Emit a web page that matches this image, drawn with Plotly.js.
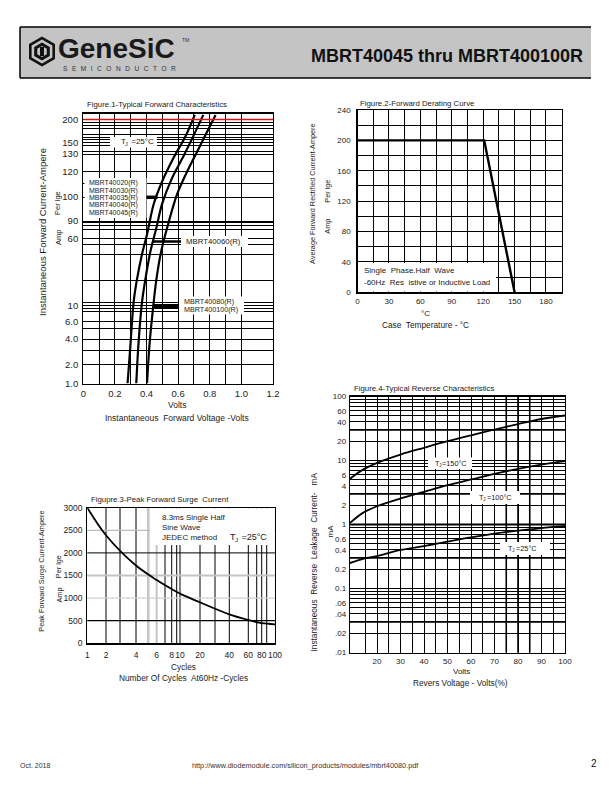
<!DOCTYPE html>
<html><head><meta charset="utf-8">
<script src="https://cdn.plot.ly/plotly-3.0.1.min.js"></script>
<style>html,body{margin:0;padding:0;background:#fff}#chart{width:612px;height:792px}</style>
</head><body><div id="chart"></div>
<script>
// ================= DATA =================
// Figure 1 - Typical Forward Characteristics (non-uniform printed current scale)
const FIG1_TICK_AMPS = [1, 2, 4, 6, 10, 60, 90, 100, 120, 130, 150, 200];
const FIG1_TICK_TEXT = ["1.0", "2.0", "4.0", "6.0", "10", "60", "90", "100", "120", "130", "150", "200"];
const FIG1_TICK_POS  = [0, 19.2, 44.5, 62, 78.2, 145, 162.5, 186.5, 212, 229.5, 241, 264]; // scale definition
const FIG1_X_TICKS = [0, 0.2, 0.4, 0.6, 0.8, 1.0, 1.2];
const FIG1_X_TEXT  = ["0", "0.2", "0.4", "0.6", "0.8", "1.0", "1.2"];
const FIG1_A_VOLTS = [0.280, 0.297, 0.318, 0.339, 0.371, 0.403, 0.445, 0.498, 0.572, 0.646, 0.705];
const FIG1_A_AMPS  = [1.0, 3.3, 12, 29, 48, 67, 97, 112, 128, 163, 210];
const FIG1_B_VOLTS = [0.335, 0.349, 0.371, 0.392, 0.424, 0.462, 0.498, 0.562, 0.635, 0.699, 0.759];
const FIG1_B_AMPS  = [1.0, 3.6, 12, 29, 50, 78, 97, 115, 129, 166, 210];
const FIG1_C_VOLTS = [0.403, 0.419, 0.441, 0.462, 0.492, 0.530, 0.593, 0.657, 0.720, 0.784, 0.837];
const FIG1_C_AMPS  = [1.0, 3.6, 9.2, 29, 50, 78, 102, 120, 134, 174, 210];
const FIG1_MODELS_A = ["MBRT40020(R)", "MBRT40030(R)", "MBRT40035(R)", "MBRT40040(R)", "MBRT40045(R)"];
const FIG1_MODELS_B = ["MBRT40060(R)"];
const FIG1_MODELS_C = ["MBRT40080(R)", "MBRT400100(R)"];

// Figure 2 - Forward Derating Curve
const FIG2_TEMP = [0, 121, 150];
const FIG2_AMPS = [200, 200, 0];
const FIG2_X_TICKS = [0, 30, 60, 90, 120, 150, 180];
const FIG2_Y_TICKS = [0, 40, 80, 120, 160, 200, 240];

// Figure 3 - Peak Forward Surge Current (non-uniform printed cycle scale)
const FIG3_TICK_CYCLES = [1, 2, 4, 6, 8, 10, 20, 40, 60, 80, 100];
const FIG3_TICK_TEXT   = ["1", "2", "4", "6", "8", "10", "20", "40", "60", "80", "100"];
const FIG3_TICK_POS    = [0, 18.7, 48.7, 69.4, 84.4, 92.7, 112.7, 142, 161, 174.4, 187.7]; // scale definition
const FIG3_CYCLES = [1, 2, 4, 6, 8, 10, 20, 40, 60, 80, 100];
const FIG3_AMPS   = [3000, 2390, 1720, 1400, 1200, 1100, 905, 640, 515, 445, 420];
const FIG3_Y_TICKS = [0, 500, 1000, 1500, 2000, 2500, 3000];

// Figure 4 - Typical Reverse Characteristics
const FIG4_VOLTS = [8.5, 14, 20, 30, 40, 50, 60, 70, 80, 90, 100];
const FIG4_T150  = [5.2, 7.2, 9.2, 12.4, 15.8, 20, 24.8, 30.5, 37, 44.5, 50.5];
const FIG4_T100  = [1.06, 1.52, 1.93, 2.55, 3.24, 4.12, 5.05, 6.2, 7.4, 8.6, 9.75];
const FIG4_T25   = [0.25, 0.29, 0.32, 0.40, 0.46, 0.54, 0.63, 0.72, 0.80, 0.88, 0.94];
const FIG4_Y_TICKS = [0.01, 0.02, 0.04, 0.06, 0.1, 0.2, 0.4, 0.6, 1, 2, 4, 6, 10, 20, 40, 60, 100];
const FIG4_Y_TEXT  = [".01", ".02", ".04", ".06", "0.1", "0.2", "0.4", "0.6", "1", "2", "4", "6", "10", "20", "40", "60", "100"];
const FIG4_X_TICKS = [20, 30, 40, 50, 60, 70, 80, 90, 100];

// ================= HELPERS =================
const W = 612, H = 792;
const fx = x => x / W;
const fy = y => 1 - y / H;
const FONT = 'Liberation Sans, Arial, Helvetica, sans-serif';

function interp(v, xs, ys, useLog) {
  const t = useLog ? Math.log10 : (a => a);
  const tv = t(v);
  let i = 0;
  while (i < xs.length - 2 && tv > t(xs[i + 1])) i++;
  const x0 = t(xs[i]), x1 = t(xs[i + 1]);
  return ys[i] + (tv - x0) * (ys[i + 1] - ys[i]) / (x1 - x0);
}
const fig1Pos = a => interp(a, FIG1_TICK_AMPS, FIG1_TICK_POS, false);
const fig3Pos = c => interp(c, FIG3_TICK_CYCLES, FIG3_TICK_POS, true);

function ann(text, x, y, size, o) {
  o = o || {};
  return {
    text: text, x: fx(x), y: fy(y), xref: 'paper', yref: 'paper', showarrow: false,
    xanchor: o.xanchor || 'left', yanchor: 'middle', textangle: o.angle || 0,
    font: {family: o.family || FONT, size: size, color: o.color || '#222', weight: o.weight || 'normal'}
  };
}
function rectPx(x0, y0, x1, y1, fill, lineColor, lw) {
  return {type: 'rect', xref: 'paper', yref: 'paper', x0: fx(x0), x1: fx(x1), y0: fy(y0), y1: fy(y1),
    fillcolor: fill, line: {color: lineColor || fill, width: lw || 0}, layer: 'above'};
}
function linePx(x0, y0, x1, y1, color, width) {
  return {type: 'line', xref: 'paper', yref: 'paper', x0: fx(x0), x1: fx(x1), y0: fy(y0), y1: fy(y1),
    line: {color: color, width: width}, layer: 'above'};
}
function axisBase(extra) {
  return Object.assign({showline: true, mirror: true, linecolor: '#000', linewidth: 1.2, ticks: '', tickangle: 0,
    zeroline: false, showgrid: true, gridcolor: '#000', gridwidth: 1, fixedrange: true}, extra);
}
function mergeTicks(vals, texts, extra) {
  const tv = vals.slice(), tt = texts.slice();
  extra.forEach(e => {
    if (!vals.some(v => Math.abs(v - e) < 1e-9 * Math.max(1, Math.abs(e)))) { tv.push(e); tt.push(''); }
  });
  return {tickvals: tv, ticktext: tt};
}

// ================= AXES =================
const fig1XGrid = [0.1, 0.3, 0.5, 0.7, 0.9];
const fig1X = mergeTicks(FIG1_X_TICKS, FIG1_X_TEXT, fig1XGrid);
const fig1YGrid = [261.2, 257.8, 255.2, 249, 246.5, 244, 238.5, 231.8, 200.2, 160.8, 157.8, 154.5,
                   139.5, 129.5, 103.5, 80.8, 75.2, 72.5, 55.2, 33.5];
const fig1Y = mergeTicks(FIG1_TICK_POS, FIG1_TICK_TEXT, fig1YGrid);

const fig2XGrid = [15, 45, 75, 105, 135, 165];
const fig2X = mergeTicks(FIG2_X_TICKS, FIG2_X_TICKS.map(String), fig2XGrid);
const fig2YGrid = [20, 60, 100, 140, 180, 220];
const fig2Y = mergeTicks(FIG2_Y_TICKS, FIG2_Y_TICKS.map(String), fig2YGrid);

const fig4YGrid = [];
[0.01, 0.1, 1, 10].forEach(d => { for (let m = 1; m <= 9; m++) fig4YGrid.push(+(m * d).toPrecision(6)); });
const fig4Y = mergeTicks(FIG4_Y_TICKS, FIG4_Y_TEXT, fig4YGrid);
const fig4XGrid = [15, 25, 35, 45, 55, 65, 75, 85, 95];
const fig4X = mergeTicks(FIG4_X_TICKS, FIG4_X_TICKS.map(String), fig4XGrid);

const tf = (s) => ({family: FONT, size: s, color: '#222'});

const layout = {
  width: W, height: H, margin: {l: 0, r: 0, t: 0, b: 0},
  paper_bgcolor: '#fff', plot_bgcolor: '#fff', showlegend: false,
  xaxis: axisBase({domain: [fx(83.3), fx(273)], range: [0, 1.2], anchor: 'y',
    tickmode: 'array', tickvals: fig1X.tickvals, ticktext: fig1X.ticktext, tickfont: tf(9.5), ticklabelstandoff: 1}),
  yaxis: axisBase({domain: [fy(383.5), fy(113.5)], range: [0, 270], anchor: 'x',
    tickmode: 'array', tickvals: fig1Y.tickvals, ticktext: fig1Y.ticktext, tickfont: tf(9.5), ticklabelstandoff: 2}),
  xaxis2: axisBase({domain: [fx(357.5), fx(561.7)], range: [0, 195], anchor: 'y2',
    tickmode: 'array', tickvals: fig2X.tickvals, ticktext: fig2X.ticktext, tickfont: tf(8), ticklabelstandoff: 1}),
  yaxis2: axisBase({domain: [fy(292.3), fy(110)], range: [0, 240], anchor: 'x2',
    tickmode: 'array', tickvals: fig2Y.tickvals, ticktext: fig2Y.ticktext, tickfont: tf(8), ticklabelstandoff: 4}),
  xaxis3: axisBase({domain: [fx(87.3), fx(275)], range: [0, 187.7], anchor: 'y3', showgrid: false,
    tickmode: 'array', tickvals: FIG3_TICK_POS, ticktext: FIG3_TICK_TEXT, tickfont: tf(8.5), ticklabelstandoff: 3}),
  yaxis3: axisBase({domain: [fy(643.3), fy(507.7)], range: [0, 3000], anchor: 'x3', showgrid: false,
    tickmode: 'array', tickvals: FIG3_Y_TICKS, ticktext: FIG3_Y_TICKS.map(String), tickfont: tf(8.5), ticklabelstandoff: 2}),
  xaxis4: axisBase({domain: [fx(350), fx(565)], range: [8.5, 100], anchor: 'y4',
    tickmode: 'array', tickvals: fig4X.tickvals, ticktext: fig4X.ticktext, tickfont: tf(8), ticklabelstandoff: 1}),
  yaxis4: axisBase({domain: [fy(652.5), fy(396.5)], type: 'log', range: [-2, 2], anchor: 'x4',
    tickmode: 'array', tickvals: fig4Y.tickvals, ticktext: fig4Y.ticktext, tickfont: tf(8), ticklabelstandoff: 1}),
  shapes: [],
  annotations: []
};

// ================= TRACES =================
const curve = (xs, ys, xa, ya, w, spline) => ({
  type: 'scatter', mode: 'lines', x: xs, y: ys, xaxis: xa, yaxis: ya, hoverinfo: 'skip',
  line: {color: '#000', width: w, shape: spline ? 'spline' : 'linear', smoothing: 0.9}
});
const traces = [
  curve(FIG1_A_VOLTS, FIG1_A_AMPS.map(fig1Pos), 'x', 'y', 2.2, true),
  curve(FIG1_B_VOLTS, FIG1_B_AMPS.map(fig1Pos), 'x', 'y', 2.2, true),
  curve(FIG1_C_VOLTS, FIG1_C_AMPS.map(fig1Pos), 'x', 'y', 2.2, true),
  curve(FIG2_TEMP, FIG2_AMPS, 'x2', 'y2', 2.4, false),
  curve(FIG3_CYCLES.map(fig3Pos), FIG3_AMPS, 'x3', 'y3', 1.8, true),
  curve(FIG4_VOLTS, FIG4_T150, 'x4', 'y4', 1.8, true),
  curve(FIG4_VOLTS, FIG4_T100, 'x4', 'y4', 1.8, true),
  curve(FIG4_VOLTS, FIG4_T25, 'x4', 'y4', 1.8, true)
];

// ================= SHAPES =================
const S = layout.shapes;
// header
S.push(Object.assign(rectPx(20, 27, 591, 78, '#c4c4c4'), {layer: 'below'}));
S.push(linePx(20, 27, 591, 27, '#000', 1.5));
S.push(linePx(20, 78, 591, 78, '#000', 1.5));
S.push(linePx(20, 27, 20, 78, '#000', 1.5));
function hexPath(cx, cy, r) {
  let p = '';
  for (let k = 0; k < 6; k++) {
    const a = (90 + 60 * k) * Math.PI / 180;
    p += (k ? ' L ' : 'M ') + fx(cx + r * Math.cos(a)).toFixed(5) + ',' + fy(cy - r * Math.sin(a)).toFixed(5);
  }
  return p + ' Z';
}
[[15, '#111'], [12, '#c4c4c4'], [9, '#111'], [5.5, '#c4c4c4']].forEach(h => {
  S.push({type: 'path', xref: 'paper', yref: 'paper', path: hexPath(42, 51.5, h[0]), fillcolor: h[1], line: {width: 0}, layer: 'above'});
});
S.push(rectPx(40, 47, 44, 56, '#111'));

// Fig 1 red 200 line
S.push({type: 'line', xref: 'x domain', yref: 'y', x0: 0, x1: 1, y0: fig1Pos(200), y1: fig1Pos(200),
  line: {color: '#e01010', width: 1.3}, layer: 'above'});
S.push(rectPx(110, 137, 157, 147.5, '#fff'));
S.push(rectPx(84.5, 178, 146.5, 218, '#fff'));
S.push(rectPx(181, 236, 248, 247, '#fff'));
S.push(rectPx(179, 296.5, 244, 314.5, '#fff'));
S.push(linePx(146.5, 197.3, 157.5, 197.3, '#000', 3.5));
S.push(linePx(153, 241.5, 181, 241.5, '#000', 2.5));
S.push(linePx(153, 306, 179, 306, '#000', 4));

// Fig 2 note box
S.push(rectPx(358.2, 263, 496, 291.6, '#fff'));

// Fig 3 grid (mixed black and grey lines)
const fig3Black = [18.7, 32.7, 48.7, 77.7, 84.4, 89.4, 92.7, 112.7, 127.7, 142, 161, 169.4, 174.4, 179.4];
fig3Black.forEach(v => S.push({type: 'line', xref: 'x3', yref: 'y3 domain', x0: v, x1: v, y0: 0, y1: 1,
  line: {color: '#000', width: 1}, layer: 'below'}));
[[61, 2.5], [69.4, 2]].forEach(g => S.push({type: 'line', xref: 'x3', yref: 'y3 domain', x0: g[0], x1: g[0], y0: 0, y1: 1,
  line: {color: '#c4c4c4', width: g[1]}, layer: 'below'}));
[[500, '#000', 1.3], [2000, '#000', 1], [2500, '#bbb', 1.3], [1500, '#c4c4c4', 2], [1000, '#d0d0d0', 1.2]].forEach(g =>
  S.push({type: 'line', xref: 'x3 domain', yref: 'y3', x0: 0, x1: 1, y0: g[0], y1: g[0],
    line: {color: g[1], width: g[2]}, layer: 'below'}));
S.push(rectPx(150, 508.3, 274.4, 545, '#fff'));

// Fig 4 heavier lines and label boxes
[0.03, 0.3, 1, 3, 30].forEach(v => S.push({type: 'line', xref: 'x4 domain', yref: 'y4', x0: 0, x1: 1, y0: v, y1: v,
  line: {color: '#000', width: 1.8}, layer: 'below'}));
[75, 80, 85].forEach(v => S.push({type: 'line', xref: 'x4', yref: 'y4 domain', x0: v, x1: v, y0: 0, y1: 1,
  line: {color: '#000', width: 1.6}, layer: 'below'}));
S.push(rectPx(428, 457.5, 472, 469, '#fff'));
S.push(rectPx(470, 491, 520, 504, '#fff'));
S.push(rectPx(500, 542, 550, 555, '#fff'));

// ================= TEXT =================
const A = layout.annotations;
// T with subscript J, built from plain annotations
function tj(xLeft, y, size, rest) {
  A.push(ann('T', xLeft, y, size));
  A.push(ann('J', xLeft + 0.6 * size, y + 0.3 * size, size * 0.68));
  A.push(ann(rest, xLeft + 0.6 * size + 0.36 * size + 0.6, y, size));
}
// header
A.push(ann('GeneSiC', 56, 49, 28, {weight: 'bold', color: '#1a1a1a'}));
A.push(ann('TM', 180, 40, 5, {color: '#333'}));
A.push(ann('S\u2002\u2009E\u2002\u2009M\u2002\u2009I\u2002\u2009C\u2002\u2009O\u2002\u2009N\u2002\u2009D\u2002\u2009U\u2002\u2009C\u2002\u2009T\u2002\u2009O\u2002\u2009R', 61, 68, 6.5, {color: '#333'}));
A.push(ann('MBRT40045 thru MBRT400100R', 585, 56, 18, {xanchor: 'right', weight: 'bold', color: '#111'}));
// footer
A.push(ann('Oct. 2018', 18, 765, 7, {color: '#333'}));
A.push(ann('http://www.diodemodule.com/silicon_products/modules/mbrt40080.pdf', 305, 765, 7.3, {xanchor: 'center', color: '#333'}));
A.push(ann('2', 589, 763, 10, {color: '#111'}));

// Fig 1
A.push(ann('Figure.1-Typical Forward Characteristics', 84.5, 104.5, 7.8));
tj(118.5, 141.8, 8, ' =25°C');
FIG1_MODELS_A.forEach((m, i) => A.push(ann(m, 86.5, [183.2, 190.6, 198, 205.4, 212.8][i], 7)));
A.push(ann(FIG1_MODELS_B[0], 184, 241.7, 7.8));
A.push(ann(FIG1_MODELS_C[0], 181.5, 301.4, 7.2));
A.push(ann(FIG1_MODELS_C[1], 181.5, 309.8, 7.2));
A.push(ann('Volts', 177, 404.5, 8.5, {xanchor: 'center'}));
A.push(ann('Instantaneous  Forward Voltage -Volts', 177, 417.5, 8.5, {xanchor: 'center'}));
A.push(ann('Instantaneous Forward Current-Ampere', 42, 232, 9.5, {xanchor: 'center', angle: -90}));
A.push(ann('Per lge', 58, 203, 7.5, {xanchor: 'center', angle: -90}));
A.push(ann('Amp', 58, 238, 7.5, {xanchor: 'center', angle: -90}));

// Fig 2
A.push(ann('Figure.2-Forward Derating Curve', 358, 103, 7.8));
A.push(ann('Single  Phase.Half  Wave', 362, 271, 8));
A.push(ann('-60Hz  Res  istive or Inductive Load', 362, 282.5, 8));
A.push(ann('°C', 425, 313, 8, {xanchor: 'center'}));
A.push(ann('Case  Temperature - °C', 425, 325, 8.3, {xanchor: 'center'}));
A.push(ann('Average Forward Rectified Current-Ampere', 313, 194, 7.3, {xanchor: 'center', angle: -90}));
A.push(ann('Per lge', 328, 191.7, 7.3, {xanchor: 'center', angle: -90}));
A.push(ann('Amp', 328, 226.7, 7.3, {xanchor: 'center', angle: -90}));

// Fig 3
A.push(ann('Figupre.3-Peak Forward Surge  Current', 88.5, 499, 7.8));
A.push(ann('8.3ms Single Half', 160, 517.7, 8));
A.push(ann('Sine Wave', 160, 527.5, 8));
A.push(ann('JEDEC method', 160, 537.3, 8));
tj(228, 537, 9, ' =25°C');
A.push(ann('Cycles', 183.3, 666.5, 8.3, {xanchor: 'center'}));
A.push(ann('Number Of Cycles  At60Hz -Cycles', 183.3, 678.3, 8.3, {xanchor: 'center'}));
A.push(ann('Peak Forward Surge Current-Ampere', 42, 571.7, 7.3, {xanchor: 'center', angle: -90}));
A.push(ann('Per lge', 58.5, 566.7, 7.3, {xanchor: 'center', angle: -90}));
A.push(ann('Amp', 58.5, 595, 7.3, {xanchor: 'center', angle: -90}));

// Fig 4
A.push(ann('Figure.4-Typical Reverse Characteristics', 351.5, 388.3, 7.8));
tj(432.5, 463.2, 7.3, '=150°C');
tj(477, 497.7, 7.3, '=100°C');
tj(506, 548.5, 7.3, '=25°C');
A.push(ann('Volts', 461.7, 671.8, 8, {xanchor: 'center'}));
A.push(ann('Revers Voltage - Volts(%)', 460, 682.5, 8.3, {xanchor: 'center'}));
A.push(ann('Instantaneous  Reverse  Leakage  Current-   mA', 313.5, 562, 8.3, {xanchor: 'center', angle: -90}));
A.push(ann('mA', 330, 531.5, 8, {xanchor: 'center', angle: -90}));

Plotly.newPlot('chart', traces, layout, {staticPlot: true, displayModeBar: false});
</script>
</body></html>
